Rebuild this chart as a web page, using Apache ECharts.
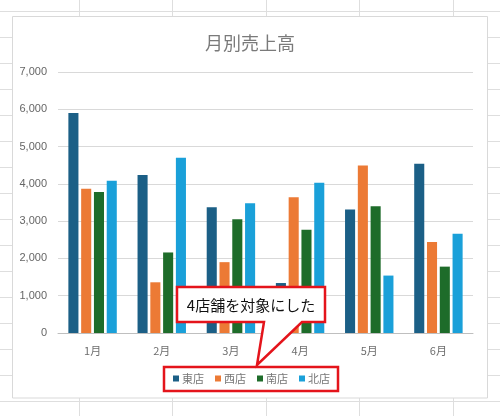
<!DOCTYPE html>
<html><head><meta charset="utf-8">
<script src="https://cdn.jsdelivr.net/npm/echarts@6/dist/echarts.min.js"></script>
<style>html,body{margin:0;padding:0;background:#fff}#c{width:500px;height:416px}</style>
</head><body><div id="c"></div>
<script>
const categories = ['1月','2月','3月','4月','5月','6月'];
const seriesNames = ['東店','西店','南店','北店'];
const east  = [5900, 4240, 3370, 1340, 3310, 4540];
const west  = [3870, 1360, 1900, 3640, 4490, 2440];
const south = [3780, 2160, 3050, 2770, 3400, 1780];
const north = [4080, 4700, 3480, 4030, 1540, 2660];
const colors = ['#1b5f86', '#ec7a35', '#1e6c2a', '#1aa0d9'];
const yTicks = [0, 1000, 2000, 3000, 4000, 5000, 6000, 7000];
const calloutText = '4店舗を対象にした';

const FONT = '"Noto Sans CJK JP", "Liberation Sans", sans-serif';
const chart = echarts.init(document.getElementById('c'));

// spreadsheet cell lines (decoration)
const bg = [];
[79, 172, 266, 359, 453].forEach(x => bg.push({type:'line', z:-20, silent:true,
  shape:{x1:x+0.5,y1:0,x2:x+0.5,y2:416}, style:{stroke:'#dedede',lineWidth:1}}));
for (let y = 10.5; y < 416; y += 26) bg.push({type:'line', z:-20, silent:true,
  shape:{x1:0,y1:Math.round(y)+0.5,x2:500,y2:Math.round(y)+0.5}, style:{stroke:'#dedede',lineWidth:1}});
bg.push({type:'rect', z:-10, silent:true, shape:{x:12.5,y:16.5,width:475,height:381.5},
  style:{fill:'#fff', stroke:'#d9d9d9', lineWidth:1}});

const data = [east, west, south, north];
chart.setOption({
  backgroundColor:'#fff',
  animation:false,
  color: colors,
  textStyle:{fontFamily:FONT},
  title:{text:'月別売上高', left:'center', top:29,
    textStyle:{fontSize:18, fontWeight:'normal', color:'#7a7a7a', fontFamily:FONT}},
  grid:{left:58, right:27, top:72, bottom:83, containLabel:false},
  legend:{data:seriesNames, left:173, top:373, padding:0, itemWidth:6, itemHeight:6, itemGap:11,
    icon:'rect', textStyle:{fontSize:11, color:'#767676', fontFamily:FONT, padding:[0,0,0,-2]}},
  xAxis:{type:'category', data:categories,
    axisLine:{lineStyle:{color:'#bfbfbf'}}, axisTick:{show:false},
    axisLabel:{color:'#6e6e6e', fontSize:11, margin:12, fontFamily:FONT}},
  yAxis:{type:'value', min:yTicks[0], max:yTicks[yTicks.length-1], interval:1000,
    axisLine:{show:false}, axisTick:{show:false},
    splitLine:{lineStyle:{color:'#d9d9d9'}},
    axisLabel:{color:'#666', fontSize:11, margin:11, fontFamily:'"Liberation Sans", sans-serif',
      formatter: v => v.toLocaleString('en-US')}},
  series: seriesNames.map((n,i) => ({name:n, type:'bar', data:data[i],
    barGap:'27%', barCategoryGap:'30%'})),
  graphic: bg.concat([
    {type:'polygon', z:100, silent:true,
      shape:{points:[[177,287],[325,287],[325,322],[302,322],[257,365],[264,322],[177,322]]},
      style:{fill:'#fff', stroke:'#e4141b', lineWidth:2.5, lineJoin:'miter'}},
    {type:'text', z:101, silent:true, x:251, y:305,
      style:{text:calloutText, fill:'#111', font:'15px ' + FONT, textAlign:'center', textVerticalAlign:'middle'}},
    {type:'rect', z:100, silent:true, shape:{x:164,y:367,width:174,height:24},
      style:{fill:null, stroke:'#e4141b', lineWidth:2.5}}
  ])
});
</script></body></html>
